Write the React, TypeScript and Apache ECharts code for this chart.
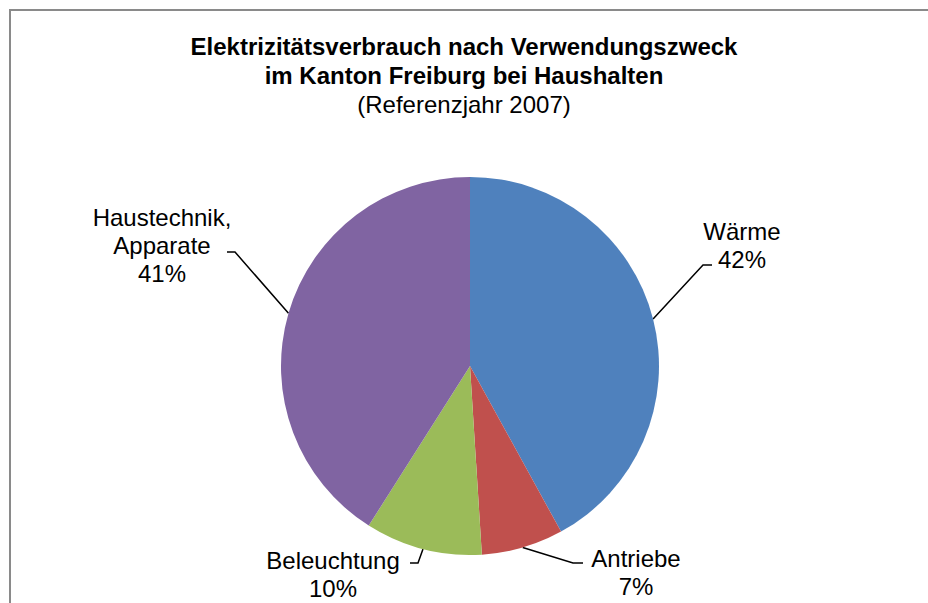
import React, { useEffect, useRef } from "react";
import * as echarts from "echarts";

const titleLines = ["Elektrizitätsverbrauch nach Verwendungszweck", "im Kanton Freiburg bei Haushalten"];
const subtitle = "(Referenzjahr 2007)";
const categories = ["Wärme", "Antriebe", "Beleuchtung", "Haustechnik,\nApparate"];
const values = [42, 7, 10, 41];
const colors = ["#4F81BD", "#C0504D", "#9BBB59", "#8064A2"];

// layout of the labels (text centre, elbow, end of leader line)
const labelPos = [
  { x: 742, y: 245, elbow: [703, 265], end: [712, 265] },
  { x: 636, y: 572, elbow: [573, 563], end: [583, 563] },
  { x: 333, y: 574, elbow: [418, 563], end: [410, 563] },
  { x: 162, y: 245, elbow: [235, 252], end: [227, 252] },
];

const CX = 470;
const CY = 366;
const R = 189;

export default function App() {
  const ref = useRef<HTMLDivElement>(null);
  useEffect(() => {
    if (!ref.current) return;
    const chart = echarts.init(ref.current, null, { renderer: "svg" });
    const total = values.reduce((a, b) => a + b, 0);
    const mids: number[] = [];
    let acc = 0;
    values.forEach((v) => {
      mids.push(((acc + v / 2) / total) * Math.PI * 2);
      acc += v;
    });
    chart.setOption({
      animation: false,
      backgroundColor: "#ffffff",
      title: {
        text: titleLines.join("\n"),
        subtext: subtitle,
        left: "center",
        top: 32,
        padding: 0,
        itemGap: 0,
        textStyle: {
          fontFamily: "Liberation Sans, Arial, sans-serif",
          fontWeight: "bold",
          fontSize: 24,
          lineHeight: 29,
          color: "#000",
        },
        subtextStyle: {
          fontFamily: "Liberation Sans, Arial, sans-serif",
          fontSize: 24,
          lineHeight: 28,
          color: "#000",
        },
      },
      graphic: [
        {
          type: "rect",
          shape: { x: 10, y: 10, width: 960, height: 640 },
          style: { fill: "none", stroke: "#8a8a8a", lineWidth: 2 },
          silent: true,
          z: 10,
        },
      ],
      series: [
        {
          type: "pie",
          center: [CX, CY],
          radius: R,
          startAngle: 90,
          clockwise: true,
          percentPrecision: 0,
          data: categories.map((name, i) => ({
            name,
            value: values[i],
            itemStyle: { color: colors[i] },
          })),
          label: {
            show: true,
            position: "outside",
            formatter: "{b}\n{d}%",
            fontFamily: "Liberation Sans, Arial, sans-serif",
            fontSize: 24,
            lineHeight: 28,
            color: "#000",
            align: "center",
          },
          labelLine: {
            show: true,
            length: 20,
            length2: 10,
            lineStyle: { color: "#000", width: 1.5 },
          },
          emphasis: { disabled: true },
          labelLayout: (params: any) => {
            const i = params.dataIndex;
            const p = labelPos[i];
            const a = mids[i];
            const sx = CX + R * Math.sin(a);
            const sy = CY - R * Math.cos(a);
            return {
              x: p.x,
              y: p.y,
              align: "center",
              verticalAlign: "middle",
              labelLinePoints: [[sx, sy], p.elbow, p.end],
            };
          },
        },
      ],
    });
    return () => chart.dispose();
  }, []);
  return (
    <div
      ref={ref}
      style={{ position: "fixed", left: 0, top: 0, width: 928, height: 603 }}
    />
  );
}
